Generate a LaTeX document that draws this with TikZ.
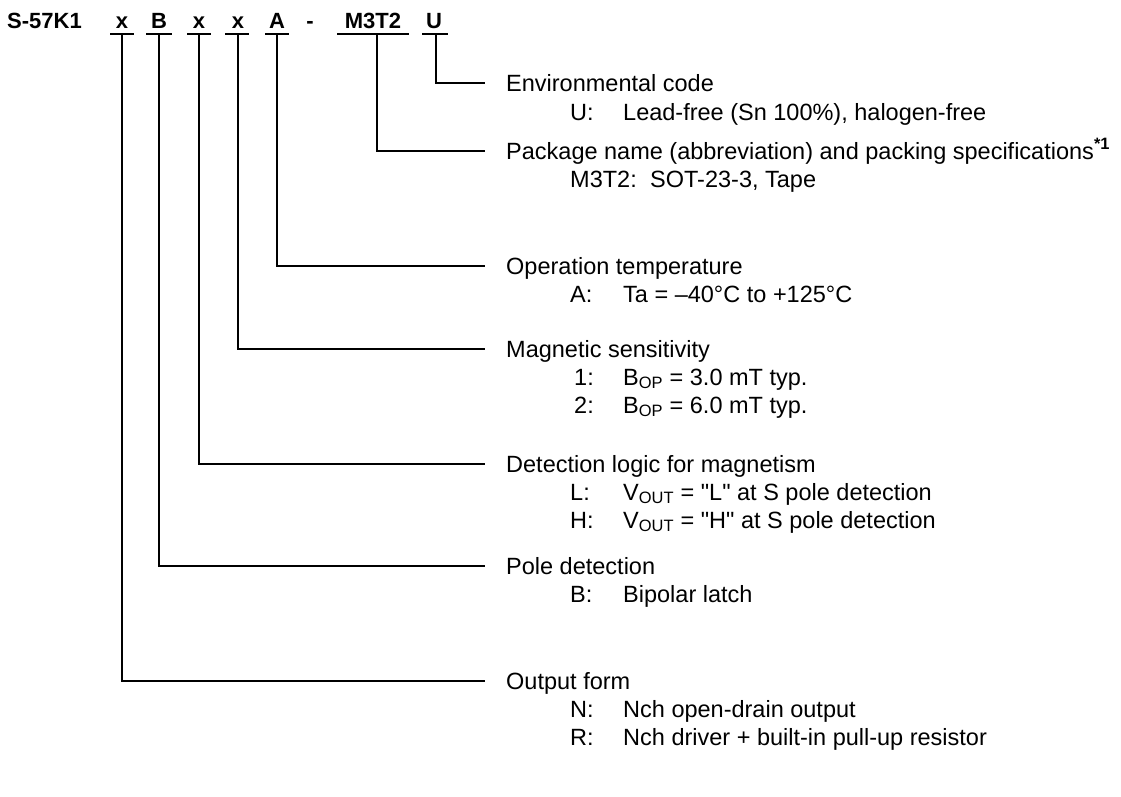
\documentclass[tikz,border=0pt]{standalone}
\usepackage{fontspec}
\setmainfont{Liberation Sans}
\newfontfamily\qfont{Liberation Sans}
\newcommand{\qq}{{\qfont"}}
\begin{document}
\begin{tikzpicture}[x=1pt,y=1pt,
  hdr/.style={font=\fontsize{22}{26}\selectfont\bfseries,anchor=base,inner sep=0pt},
  lab/.style={font=\fontsize{23.5}{27}\selectfont,anchor=base west,inner sep=0pt},
  ln/.style={line width=1.8pt},
  ul/.style={line width=1.8pt}]
\useasboundingbox (0,0) rectangle (1121,-796);
% header
\node[hdr,anchor=base west] (h0) at (7,-28) {S-57K1};
\node[hdr] (h1) at (122,-28) {x};
\node[hdr] (h2) at (159,-28) {B};
\node[hdr] (h3) at (199,-28) {x};
\node[hdr] (h4) at (238,-28) {x};
\node[hdr] (h5) at (277,-28) {A};
\node[hdr] (h6) at (310,-28) {-};
\node[hdr] (h7) at (373,-28) {M3T2};
\node[hdr] (h8) at (434,-28) {U};
% underlines
\draw[ul] (110,-34) -- (134,-34);
\draw[ul] (146,-34) -- (172,-34);
\draw[ul] (187,-34) -- (211,-34);
\draw[ul] (225,-34) -- (249,-34);
\draw[ul] (265,-34) -- (289,-34);
\draw[ul] (337,-34) -- (409,-34);
\draw[ul] (422,-34) -- (448,-34);
\coordinate (u1) at (122,-34);
\coordinate (u2) at (159,-34);
\coordinate (u3) at (199,-34);
\coordinate (u4) at (238,-34);
\coordinate (u5) at (277,-34);
\coordinate (u7) at (377,-34);
\coordinate (u8) at (436,-34);
% line ends
\coordinate (e8) at (485,-83);
\coordinate (e7) at (485,-151);
\coordinate (e5) at (485,-266);
\coordinate (e4) at (485,-349);
\coordinate (e3) at (485,-464);
\coordinate (e2) at (485,-566);
\coordinate (e1) at (485,-681);
\draw[ln] (u8) |- (e8);
\draw[ln] (u7) |- (e7);
\draw[ln] (u5) |- (e5);
\draw[ln] (u4) |- (e4);
\draw[ln] (u3) |- (e3);
\draw[ln] (u2) |- (e2);
\draw[ln] (u1) |- (e1);
% labels
\node[lab] (t8) at (506,-91) {Environmental code};
\node[lab] (t8a) at (570,-120) {U:};
\node[lab] (t8b) at (623,-120) {Lead-free (Sn 100\%), halogen-free};
\node[lab] (t7) at (506,-159) {Package name (abbreviation) and packing specifications\textsuperscript{\bfseries *1}};
\node[lab] (t7a) at (570,-187) {M3T2:};
\node[lab] (t7b) at (650,-187) {SOT-23-3, Tape};
\node[lab] (t5) at (506,-274) {Operation temperature};
\node[lab] (t5a) at (570,-302) {A:};
\node[lab] (t5b) at (623,-302) {Ta = –40°C to +125°C};
\node[lab] (t4) at (506,-357) {Magnetic sensitivity};
\node[lab] (t4a) at (574,-385) {1:};
\node[lab] (t4b) at (623,-385) {B\textsubscript{OP} = 3.0 mT typ.};
\node[lab] (t4c) at (574,-413) {2:};
\node[lab] (t4d) at (623,-413) {B\textsubscript{OP} = 6.0 mT typ.};
\node[lab] (t3) at (506,-472) {Detection logic for magnetism};
\node[lab] (t3a) at (570,-500) {L:};
\node[lab] (t3b) at (623,-500) {V\textsubscript{OUT} = \qq L\qq{} at S pole detection};
\node[lab] (t3c) at (570,-528) {H:};
\node[lab] (t3d) at (623,-528) {V\textsubscript{OUT} = \qq H\qq{} at S pole detection};
\node[lab] (t2) at (506,-574) {Pole detection};
\node[lab] (t2a) at (570,-602) {B:};
\node[lab] (t2b) at (623,-602) {Bipolar latch};
\node[lab] (t1) at (506,-689) {Output form};
\node[lab] (t1a) at (570,-717) {N:};
\node[lab] (t1b) at (623,-717) {Nch open-drain output};
\node[lab] (t1c) at (570,-745) {R:};
\node[lab] (t1d) at (623,-745) {Nch driver + built-in pull-up resistor};
\end{tikzpicture}
\end{document}
